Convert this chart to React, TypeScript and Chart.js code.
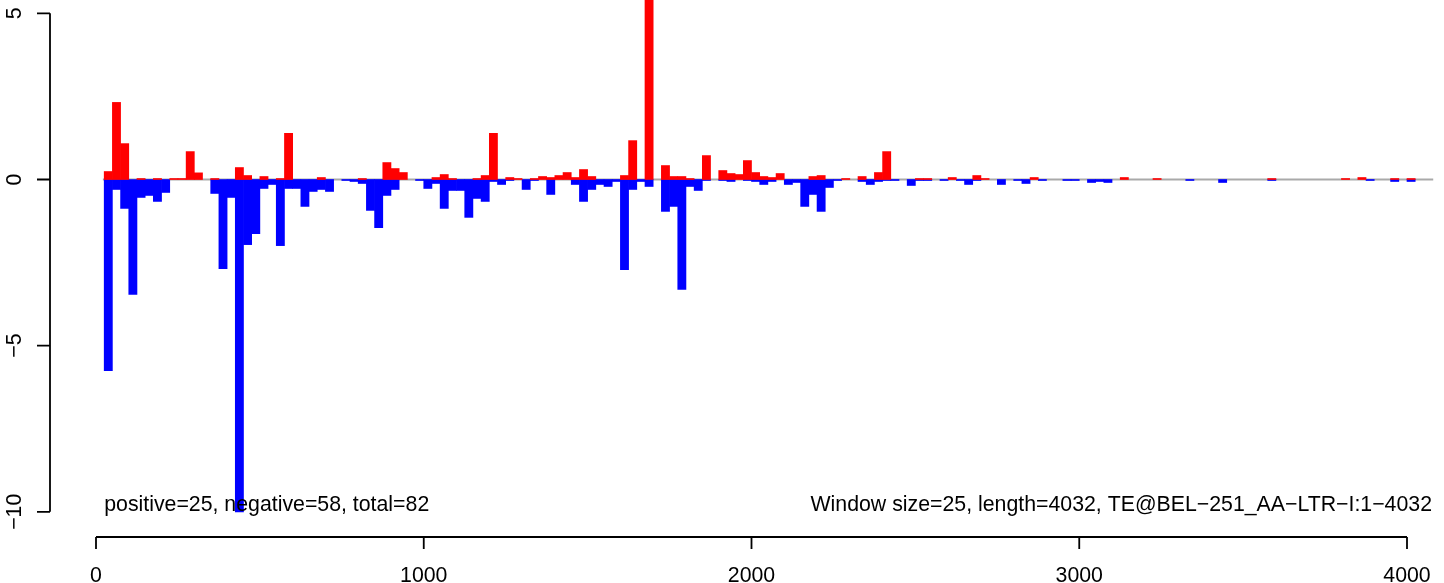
import React, { useEffect, useRef } from 'react';
import { Chart, registerables } from 'chart.js';

Chart.register(...registerables);

// ---- data ----
const WINDOW = 25;
const SEQ_LENGTH = 4032;

// window index (window k covers k*25 .. (k+1)*25) and value of the positive (red) series
const posBins = [1, 2, 3, 5, 7, 9, 10, 11, 12, 14, 17, 18, 20, 22, 23, 27, 32, 35, 36, 37, 41, 42, 43, 46, 47, 48, 50, 51, 53, 54, 55, 56, 57, 58, 59, 60, 64, 65, 67, 69, 70, 71, 72, 74, 76, 77, 78, 79, 80, 81, 82, 83, 87, 88, 91, 93, 95, 96, 100, 101, 104, 107, 108, 114, 125, 129, 143, 152, 154, 158, 160];
const posValues = [0.24, 2.32, 1.08, 0.03, 0.03, 0.03, 0.03, 0.84, 0.2, 0.03, 0.36, 0.12, 0.09, 0.03, 1.39, 0.06, 0.03, 0.51, 0.33, 0.21, 0.06, 0.15, 0.03, 0.03, 0.12, 1.39, 0.06, 0.03, 0.03, 0.09, 0.06, 0.12, 0.21, 0.06, 0.3, 0.09, 0.12, 1.17, 6.8, 0.42, 0.09, 0.09, 0.03, 0.72, 0.27, 0.18, 0.15, 0.57, 0.21, 0.09, 0.06, 0.18, 0.09, 0.12, 0.03, 0.09, 0.21, 0.84, 0.03, 0.03, 0.06, 0.12, 0.03, 0.06, 0.06, 0.03, 0.03, 0.03, 0.06, 0.03, 0.03];

// window index and value of the negative (blue) series
const negBins = [1, 2, 3, 4, 5, 6, 7, 8, 14, 15, 16, 17, 18, 19, 20, 21, 22, 23, 24, 25, 26, 27, 28, 30, 31, 32, 33, 34, 35, 36, 39, 40, 41, 42, 43, 44, 45, 46, 47, 48, 49, 50, 52, 53, 55, 58, 59, 60, 61, 62, 63, 64, 65, 66, 67, 69, 70, 71, 72, 73, 74, 76, 77, 79, 80, 81, 82, 84, 85, 86, 87, 88, 89, 90, 93, 94, 95, 96, 97, 99, 100, 101, 103, 105, 106, 107, 110, 112, 113, 115, 118, 119, 121, 122, 123, 133, 137, 143, 155, 158, 160];
const negValues = [-5.75, -0.3, -0.87, -3.46, -0.54, -0.48, -0.66, -0.39, -0.42, -2.68, -0.54, -10.0, -1.96, -1.63, -0.27, -0.15, -1.99, -0.27, -0.27, -0.81, -0.36, -0.3, -0.36, -0.03, -0.06, -0.12, -0.93, -1.45, -0.48, -0.3, -0.03, -0.27, -0.12, -0.87, -0.33, -0.33, -1.14, -0.57, -0.66, -0.06, -0.15, -0.03, -0.3, -0.03, -0.45, -0.15, -0.66, -0.3, -0.15, -0.21, -0.06, -2.71, -0.3, -0.06, -0.21, -0.96, -0.81, -3.31, -0.21, -0.33, -0.03, -0.03, -0.06, -0.03, -0.06, -0.15, -0.06, -0.15, -0.09, -0.81, -0.45, -0.96, -0.24, -0.03, -0.06, -0.15, -0.06, -0.03, -0.03, -0.18, -0.03, -0.03, -0.03, -0.03, -0.15, -0.03, -0.15, -0.03, -0.12, -0.03, -0.03, -0.03, -0.09, -0.06, -0.09, -0.03, -0.09, -0.03, -0.03, -0.06, -0.06];

const xTicks = [0, 1000, 2000, 3000, 4000];
const yTicks = [-10, -5, 0, 5];
const yTickLabels = ['\u221210', '\u22125', '0', '5'];
const zeroLineRange = [21, 4080];

const leftNote = 'positive=25, negative=58, total=82';
const rightNote = 'Window size=25, length=4032, TE@BEL\u2212251_AA\u2212LTR\u2212I:1\u22124032';

// ---- layout (axis limits chosen to reproduce the R plot region) ----
const W = 1444;
const H = 583;
const PAD = { left: 50, right: 12, top: 0, bottom: 46 };
const PX_PER_X = 1311 / 4000;
const PX_PER_Y = 33.23;
const X_MIN = -(96 - PAD.left) / PX_PER_X;
const X_MAX = X_MIN + (W - PAD.left - PAD.right) / PX_PER_X;
const Y_MAX = 179.5 / PX_PER_Y;
const Y_MIN = Y_MAX - (H - PAD.top - PAD.bottom) / PX_PER_Y;

const FONT = '21.3px "Liberation Sans", Arial, Helvetica, sans-serif';

const rPlugin = {
  id: 'rStyle',
  beforeDatasetsDraw(chart: any) {
    const { ctx, scales } = chart;
    const x = scales.x;
    const y = scales.y;
    const y0 = y.getPixelForValue(0);
    ctx.save();
    ctx.strokeStyle = '#a9a9a9';
    ctx.lineWidth = 2;
    ctx.beginPath();
    ctx.moveTo(x.getPixelForValue(zeroLineRange[0]), y0);
    ctx.lineTo(x.getPixelForValue(zeroLineRange[1]), y0);
    ctx.stroke();
    ctx.restore();
  },
  afterDraw(chart: any) {
    const { ctx, scales, chartArea } = chart;
    const x = scales.x;
    const y = scales.y;
    ctx.save();
    ctx.strokeStyle = '#000';
    ctx.fillStyle = '#000';
    ctx.lineWidth = 1.8;
    ctx.font = FONT;

    // y axis
    const ax = chartArea.left;
    const yTop = y.getPixelForValue(yTicks[yTicks.length - 1]);
    const yBot = y.getPixelForValue(yTicks[0]);
    ctx.beginPath();
    ctx.moveTo(ax, yTop);
    ctx.lineTo(ax, yBot);
    yTicks.forEach((v) => {
      const py = y.getPixelForValue(v);
      ctx.moveTo(ax, py);
      ctx.lineTo(ax - 13, py);
    });
    ctx.stroke();
    yTicks.forEach((v, i) => {
      const py = y.getPixelForValue(v);
      ctx.save();
      ctx.translate(21, py);
      ctx.rotate(-Math.PI / 2);
      ctx.textAlign = 'center';
      ctx.textBaseline = 'alphabetic';
      ctx.fillText(yTickLabels[i], 0, 0);
      ctx.restore();
    });

    // x axis
    const ay = chartArea.bottom;
    const xl = x.getPixelForValue(xTicks[0]);
    const xr = x.getPixelForValue(xTicks[xTicks.length - 1]);
    ctx.beginPath();
    ctx.moveTo(xl, ay);
    ctx.lineTo(xr, ay);
    xTicks.forEach((v) => {
      const px = x.getPixelForValue(v);
      ctx.moveTo(px, ay);
      ctx.lineTo(px, ay + 12);
    });
    ctx.stroke();
    ctx.textAlign = 'center';
    ctx.textBaseline = 'alphabetic';
    xTicks.forEach((v) => {
      ctx.fillText(String(v), x.getPixelForValue(v), 582);
    });

    // notes
    const noteY = y.getPixelForValue(-10) - 1;
    ctx.textAlign = 'left';
    ctx.fillText(leftNote, x.getPixelForValue(WINDOW), noteY);
    ctx.textAlign = 'right';
    ctx.fillText(rightNote, chartArea.right, noteY);
    ctx.restore();
  },
};

export default function App() {
  const ref = useRef<HTMLCanvasElement>(null);

  useEffect(() => {
    document.body.style.margin = '0';
    const canvas = ref.current;
    if (!canvas) return;
    const toPoints = (bins: number[], vals: number[]) =>
      bins.map((b, i) => ({ x: b * WINDOW + WINDOW / 2, y: vals[i] }));

    const chart = new Chart(canvas, {
      type: 'bar',
      data: {
        datasets: [
          {
            label: 'positive',
            data: toPoints(posBins, posValues),
            backgroundColor: '#ff0000',
            borderWidth: 0,
            barPercentage: 1,
            categoryPercentage: 1,
          },
          {
            label: 'negative',
            data: toPoints(negBins, negValues),
            backgroundColor: '#0000ff',
            borderWidth: 0,
            barPercentage: 1,
            categoryPercentage: 1,
          },
        ],
      },
      options: {
        responsive: false,
        animation: false,
        devicePixelRatio: 1,
        layout: { padding: PAD },
        plugins: {
          legend: { display: false },
          tooltip: { enabled: false },
        },
        scales: {
          x: {
            type: 'linear',
            display: false,
            min: X_MIN,
            max: X_MAX,
            offset: false,
            stacked: true,
            afterBuildTicks: (s: any) => {
              s.ticks = xTicks.map((v) => ({ value: v }));
            },
          },
          y: {
            type: 'linear',
            display: false,
            min: Y_MIN,
            max: Y_MAX,
            stacked: true,
          },
        },
      },
      plugins: [rPlugin],
    } as any);
    return () => chart.destroy();
  }, []);

  return (
    <div style={{ width: W, height: H, background: '#fff' }}>
      <canvas ref={ref} width={W} height={H} style={{ display: 'block' }} />
    </div>
  );
}
